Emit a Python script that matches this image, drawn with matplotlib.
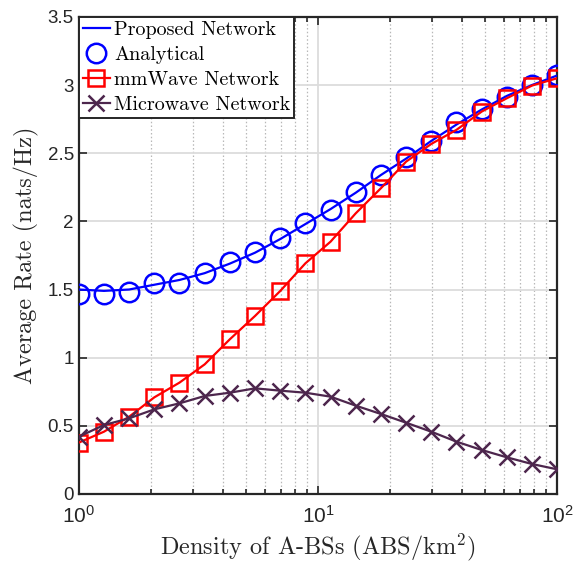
import numpy as np
import matplotlib
matplotlib.use("Agg")
import matplotlib.pyplot as plt
from matplotlib.ticker import FixedLocator, FuncFormatter, NullFormatter, LogLocator

plt.rcParams['mathtext.fontset'] = 'custom'
plt.rcParams['mathtext.rm'] = 'cmr10'
plt.rcParams['mathtext.it'] = 'cmmi10'
plt.rcParams['mathtext.sf'] = 'Liberation Sans'
plt.rcParams['axes.formatter.use_mathtext'] = True

density = np.logspace(0, 2, 20)

proposed = [1.50, 1.49, 1.50, 1.535, 1.57, 1.62, 1.69, 1.77, 1.87, 1.98,
            2.09, 2.21, 2.34, 2.46, 2.59, 2.71, 2.82, 2.92, 3.00, 3.07]
analytical = [1.465, 1.47, 1.48, 1.55, 1.545, 1.62, 1.70, 1.778, 1.876, 1.986,
              2.084, 2.218, 2.34, 2.475, 2.592, 2.731, 2.822, 2.915, 3.00, 3.074]
mmwave = [0.377, 0.457, 0.567, 0.709, 0.817, 0.951, 1.135, 1.306, 1.489, 1.692,
          1.851, 2.059, 2.243, 2.438, 2.568, 2.671, 2.805, 2.903, 2.996, 3.05]
microwave = [0.42, 0.506, 0.555, 0.621, 0.665, 0.719, 0.743, 0.775, 0.758, 0.743,
             0.714, 0.648, 0.587, 0.523, 0.457, 0.384, 0.323, 0.269, 0.22, 0.181]

labels = ['Proposed Network', 'Analytical', 'mmWave Network', 'Microwave Network']
yticks = [0, 0.5, 1, 1.5, 2, 2.5, 3, 3.5]
ytick_labels = ['0', '0.5', '1', '1.5', '2', '2.5', '3', '3.5']

fig = plt.figure(figsize=(5.75, 5.62), dpi=100)
ax = fig.add_axes([0.137, 0.121, 0.832, 0.849])

purple = '#4d264d'
ax.plot(density, proposed, '-', color='blue', lw=1.6, label=labels[0], zorder=3)
ax.plot(density, analytical, 'o', color='blue', mfc='none', ms=14, mew=1.8,
        label=labels[1], zorder=3)
ax.plot(density, mmwave, '-s', color='red', mfc='none', ms=12, mew=1.8, lw=1.6,
        label=labels[2], zorder=3)
ax.plot(density, microwave, '-x', color=purple, ms=12, mew=1.8, lw=1.6,
        label=labels[3], zorder=3)

ax.set_xscale('log')
ax.set_xlim(1, 100)
ax.set_ylim(0, 3.5)
ax.set_yticks(yticks)
ax.set_yticklabels(ytick_labels, fontfamily='Liberation Sans', fontsize=13.5)
ax.xaxis.set_major_locator(FixedLocator([1, 10, 100]))
ax.xaxis.set_major_formatter(FuncFormatter(lambda v, p: r'$\mathsf{10^{%d}}$' % int(round(np.log10(v)))))
ax.xaxis.set_minor_locator(LogLocator(base=10, subs=np.arange(2, 10), numticks=20))
ax.xaxis.set_minor_formatter(NullFormatter())
for t in ax.get_xticklabels():
    t.set_fontsize(15)

ax.grid(True, which='major', color='#dcdcdc', lw=1.3, ls='-', zorder=0)
ax.grid(True, which='minor', axis='x', color='#b8b8b8', lw=0.9, ls=(0, (1.2, 1.8)), zorder=0)
ax.set_axisbelow(True)

ax.tick_params(which='both', direction='in', top=True, right=True, width=1.2, colors='#262626')
ax.tick_params(which='major', length=6)
ax.tick_params(which='minor', length=3.5)
ax.tick_params(axis='y', labelcolor='#262626')
ax.tick_params(axis='x', labelcolor='#262626', pad=8)
for s in ax.spines.values():
    s.set_linewidth(1.6)
    s.set_color('#262626')

ax.set_xlabel(r'Density of A-BSs (ABS/km$^2$)', fontfamily='cmr10', fontsize=17.5, color='#262626',
              labelpad=3)
ax.set_ylabel('Average Rate (nats/Hz)', fontfamily='cmr10', fontsize=17.5, color='#262626',
              labelpad=6)

leg = ax.legend(loc='upper left', prop={'family': 'cmr10', 'size': 14.5}, frameon=True,
                fancybox=False, edgecolor='#262626', borderaxespad=0, handlelength=1.35,
                handletextpad=0.2, borderpad=0.2, labelspacing=0.35, framealpha=1)
leg.get_frame().set_linewidth(1.4)

fig.savefig('out.png', dpi=100)
